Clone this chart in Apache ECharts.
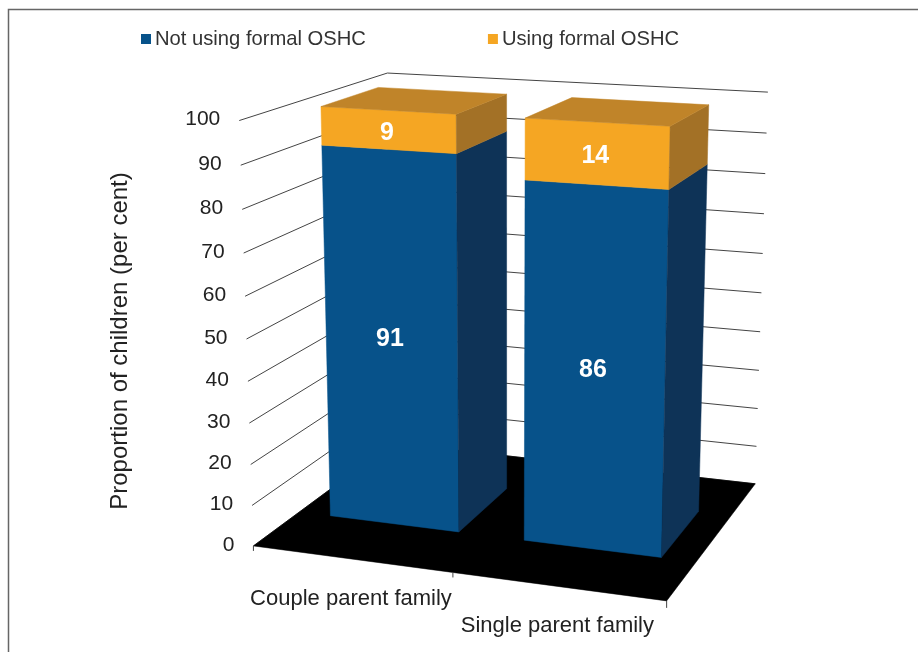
<!doctype html>
<html lang="en">
<head>
    <meta charset="UTF-8">
    <script src="https://cdn.jsdelivr.net/npm/echarts@6/dist/echarts.min.js"></script>
    <title>Formal OSHC use by family type</title>
    <style>
        html, body { margin: 0; padding: 0; background: #fff; }
    </style>
</head>
<body>
<div id="chart" style="width: 918px;height:652px;"></div>
<script>
    var categories = ['Couple parent family', 'Single parent family'];
    var notUsing = [91, 86];
    var using = [9, 14];
    var yTicks = [0, 10, 20, 30, 40, 50, 60, 70, 80, 90, 100];

    var FONT = '"Liberation Sans", Arial, sans-serif';
    var BLUE = ['#07528a', '#0e3357'];
    var ORANGE = ['#f5a623', '#c08429', '#a37126'];
    var BAR_RATIO = 0.67;
    var Z_FRONT = 0.30;
    var Z_BACK = 0.70;

    // where the corners of the 3d box land on the page: x, depth, value -> px, py
    var anchors = [
        [0, 0, 0, 253.5, 545.5], [1, 0, 0, 666.7, 601.7], [1, 1, 0, 755, 483], [0, 1, 0, 393, 444],
        [0, 0, 1, 239.3, 121], [0, 1, 1, 387.3, 72.7], [1, 1, 1, 768, 92.3],
        [0, 0, 0.1, 252, 505], [0, 0, 0.7, 243.5, 252.7], [1, 1, 0.8, 765, 174], [1, 1, 0.6, 763, 253]
    ];

    // least squares fit of the 3x4 camera matrix (last term fixed to 1)
    function fitCamera(pts) {
        var n = 11, A = [], i, j, k;
        for (i = 0; i < n; i++) {
            A.push(new Array(n + 1).fill(0));
        }
        function add(row, rhs) {
            for (var a = 0; a < n; a++) {
                for (var b = 0; b < n; b++) A[a][b] += row[a] * row[b];
                A[a][n] += row[a] * rhs;
            }
        }
        pts.forEach(function (p) {
            var x = p[0], z = p[1], v = p[2], u = p[3], w = p[4];
            add([x, z, v, 1, 0, 0, 0, 0, -u * x, -u * z, -u * v], u);
            add([0, 0, 0, 0, x, z, v, 1, -w * x, -w * z, -w * v], w);
        });
        for (i = 0; i < n; i++) {
            var best = i;
            for (j = i + 1; j < n; j++) {
                if (Math.abs(A[j][i]) > Math.abs(A[best][i])) best = j;
            }
            var tmp = A[i]; A[i] = A[best]; A[best] = tmp;
            for (j = 0; j < n; j++) {
                if (j === i) continue;
                var f = A[j][i] / A[i][i];
                for (k = i; k <= n; k++) A[j][k] -= f * A[i][k];
            }
        }
        return A.map(function (row, idx) { return row[n] / row[idx]; });
    }

    var cam = fitCamera(anchors);

    function project(x, z, v) {
        var d = cam[8] * x + cam[9] * z + cam[10] * v + 1;
        return [
            (cam[0] * x + cam[1] * z + cam[2] * v + cam[3]) / d,
            (cam[4] * x + cam[5] * z + cam[6] * v + cam[7]) / d
        ];
    }

    // grid pixel -> box fractions, so the marks still go through the axes
    function toBox(params, pt) {
        var cs = params.coordSys;
        return [(pt[0] - cs.x) / cs.width, (cs.y + cs.height - pt[1]) / cs.height];
    }

    function poly(points, color) {
        return {
            type: 'polygon',
            shape: { points: points },
            style: { fill: color, stroke: color, lineWidth: 0.5 }
        };
    }

    function line(a, b, color, width) {
        return {
            type: 'line',
            shape: { x1: a[0], y1: a[1], x2: b[0], y2: b[1] },
            style: { stroke: color, lineWidth: width }
        };
    }

    function renderWall(params, api) {
        var v = toBox(params, api.coord([0, api.value(0)]))[1];
        var left = project(0, 0, v), corner = project(0, 1, v), right = project(1, 1, v);
        return {
            type: 'group',
            children: [
                line(left, corner, '#444', 1),
                line(corner, right, '#444', 1),
                {
                    type: 'text',
                    style: {
                        x: left[0] - 19, y: left[1] - 1, text: String(api.value(0)),
                        align: 'right', verticalAlign: 'middle',
                        font: '21px ' + FONT, fill: '#222'
                    }
                }
            ]
        };
    }

    function renderFloor() {
        return poly([project(0, 0, 0), project(1, 0, 0), project(1, 1, 0), project(0, 1, 0)], '#000');
    }

    function renderCategory(params, api) {
        var idx = api.value(0);
        var band = api.size([1, 0])[0];
        var mid = toBox(params, api.coord([idx, 0]))[0];
        var half = band / params.coordSys.width / 2;
        var pos = project(mid, 0, 0);
        var from = project(mid - half, 0, 0);
        var children = [
            line(from, [from[0], from[1] + 5], '#444', 1),
            {
                type: 'text',
                style: {
                    x: pos[0] - 0.5, y: pos[1] + 40, text: categories[idx],
                    align: 'center', verticalAlign: 'middle',
                    font: '22px ' + FONT, fill: '#222'
                }
            }
        ];
        if (idx === categories.length - 1) {
            var to = project(mid + half, 0, 0);
            children.push(line(to, [to[0], to[1] + 7], '#444', 1));
        }
        return { type: 'group', children: children };
    }

    function barRender(colors, hasTop) {
        return function (params, api) {
            var idx = api.value(0);
            var bottom = toBox(params, api.coord([idx, api.value(1)]));
            var top = toBox(params, api.coord([idx, api.value(2)]));
            var half = api.size([1, 0])[0] / params.coordSys.width * BAR_RATIO / 2;
            var x0 = bottom[0] - half, x1 = bottom[0] + half;
            var a = project(x0, Z_FRONT, bottom[1]), b = project(x1, Z_FRONT, bottom[1]);
            var c = project(x1, Z_FRONT, top[1]), d = project(x0, Z_FRONT, top[1]);
            var e = project(x1, Z_BACK, bottom[1]), f = project(x1, Z_BACK, top[1]);
            var g = project(x0, Z_BACK, top[1]);
            var children = [
                poly([a, b, c, d], colors[0]),
                poly([b, e, f, c], colors[colors.length - 1])
            ];
            if (hasTop) {
                children.push(poly([d, c, f, g], colors[1]));
            }
            children.push({
                type: 'text',
                style: {
                    x: (a[0] + b[0] + c[0] + d[0]) / 4 - 2,
                    y: (a[1] + b[1] + c[1] + d[1]) / 4 + 3,
                    text: String(api.value(2) - api.value(1)),
                    align: 'center', verticalAlign: 'middle',
                    font: 'bold 25px ' + FONT, fill: '#fff'
                }
            });
            return { type: 'group', children: children };
        };
    }

    var lowerData = notUsing.map(function (val, i) { return [i, 0, val]; });
    var upperData = using.map(function (val, i) { return [i, notUsing[i], notUsing[i] + val]; });

    var myChart = echarts.init(document.getElementById('chart'));
    var option = {
        animation: false,
        backgroundColor: '#fff',
        grid: { left: 254, top: 121, width: 413, height: 424 },
        xAxis: { type: 'category', data: categories, show: false },
        yAxis: { type: 'value', min: 0, max: 100, interval: 10, show: false },
        legend: {
            left: 141,
            top: 29,
            padding: 0,
            data: ['Not using formal OSHC', 'Using formal OSHC'],
            icon: 'rect',
            itemWidth: 10,
            itemHeight: 10,
            itemGap: 122,
            textStyle: { fontFamily: FONT, fontSize: 20.2, color: '#333', padding: [0, 0, 0, -1] }
        },
        graphic: [
            {
                type: 'polyline',
                silent: true,
                shape: { points: [[8.5, 652], [8.5, 9.5], [918, 9.5]] },
                style: { stroke: '#666', lineWidth: 1.5, fill: 'none' }
            },
            {
                type: 'text',
                silent: true,
                x: 120,
                y: 341,
                rotation: Math.PI / 2,
                style: {
                    text: 'Proportion of children (per cent)',
                    align: 'center', verticalAlign: 'middle',
                    font: '24px ' + FONT, fill: '#222'
                }
            }
        ],
        series: [
            {
                type: 'custom', name: 'walls', silent: true, clip: false,
                renderItem: renderWall,
                data: yTicks.map(function (t) { return [t]; })
            },
            {
                type: 'custom', name: 'floor', silent: true, clip: false,
                renderItem: renderFloor,
                data: [[0]]
            },
            {
                type: 'custom', name: 'categories', silent: true, clip: false,
                renderItem: renderCategory,
                data: categories.map(function (c, i) { return [i]; })
            },
            {
                type: 'custom', name: 'Not using formal OSHC', silent: true, clip: false,
                itemStyle: { color: BLUE[0] },
                renderItem: barRender(BLUE, false),
                data: lowerData
            },
            {
                type: 'custom', name: 'Using formal OSHC', silent: true, clip: false,
                itemStyle: { color: ORANGE[0] },
                renderItem: barRender(ORANGE, true),
                data: upperData
            }
        ]
    };
    myChart.setOption(option);
</script>
</body>
</html>
